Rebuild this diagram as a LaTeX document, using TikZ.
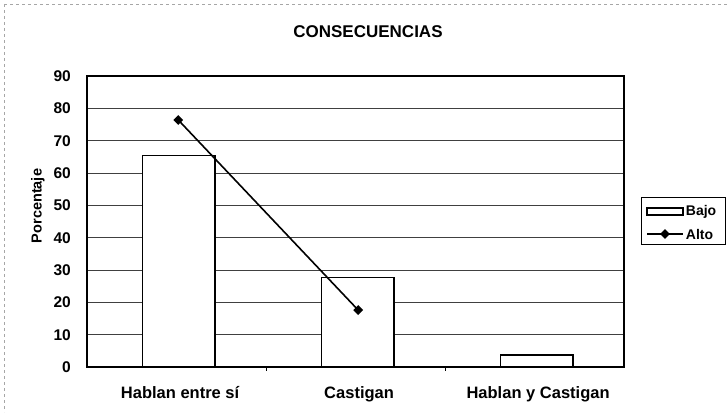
\documentclass[tikz,border=0pt]{standalone}
\usepackage{fontspec}
\setmainfont{Liberation Sans}
\usetikzlibrary{shapes}

\tikzset{
	bajobar/.style={draw=black, line width=1.3pt, fill=white},
	altomark/.style={diamond, fill=black, inner sep=0pt, minimum size=10pt},
	gridline/.style={color=black!75, line width=0.7pt}
}

\begin{document}
\begin{tikzpicture}[x=1pt, y=1pt]

	\useasboundingbox (0,0) rectangle (727,412);

	% scanned page frame, only top and left edges show
	\draw[color=gray!70, dashed, line width=0.5pt] (4,408) -- (727,408);
	\draw[color=gray!70, dashed, line width=0.5pt] (4,408) -- (4,0);

	% title
	\node[font=\bfseries, scale=1.7] (title) at (368,380) {CONSECUENCIAS};

	% y axis title
	\node[font=\bfseries, scale=1.45, rotate=90] (ylab) at (38,206) {Porcentaje};

	% plot area: one unit in x per category, one unit in y per percent
	\begin{scope}[shift={(87,45)}, x=179pt, y=3.233pt]

	% grid lines
	\foreach \v in {10,20,...,80}
		\draw[gridline] (0,\v) -- (3,\v);

	% Bajo bars
	\foreach \c/\v in {0/65.5, 1/27.7, 2/3.7}
		\draw[bajobar] (\c+0.31,0) rectangle (\c+0.715,\v);

	% frame of the plot area
	\draw[line width=1.1pt] (0,0) rectangle (3,90);

	% ticks between categories
	\foreach \c in {1,2}
		\draw[line width=0.6pt] (\c,0) -- (\c,-1.3);

	% y tick labels
	\foreach \v in {0,10,...,90}
		\node[font=\bfseries, scale=1.55, anchor=east] (y\v) at (-0.06,\v) {\v};

	% category labels
	\node[font=\bfseries, scale=1.65, anchor=base] (cat1) at (0.52,-9.8) {Hablan entre sí};
	\node[font=\bfseries, scale=1.65, anchor=base] (cat2) at (1.52,-9.8) {Castigan};
	\node[font=\bfseries, scale=1.65, anchor=base] (cat3) at (2.52,-9.8) {Hablan y Castigan};

	% Alto series
	\coordinate (alto1) at (0.51,76.4);
	\coordinate (alto2) at (1.515,17.6);
	\draw[line width=1.6pt] (alto1) -- (alto2);
	\node[altomark] (m1) at (alto1) {};
	\node[altomark] (m2) at (alto2) {};

	\end{scope}

	% legend
	\draw[line width=0.7pt] (641,168) rectangle (725,215);
	\draw[line width=1.2pt] (647,197) rectangle (683,204);
	\node[font=\bfseries, scale=1.4, anchor=west] (bajo) at (681,200.5) {Bajo};
	\coordinate (leg1) at (647,178);
	\coordinate (leg2) at (683,178);
	\draw[line width=1.2pt] (leg1) -- (leg2);
	\node[altomark] (legmark) at (665,178) {};
	\node[font=\bfseries, scale=1.4, anchor=west] (alto) at (681,178) {Alto};

\end{tikzpicture}
\end{document}
